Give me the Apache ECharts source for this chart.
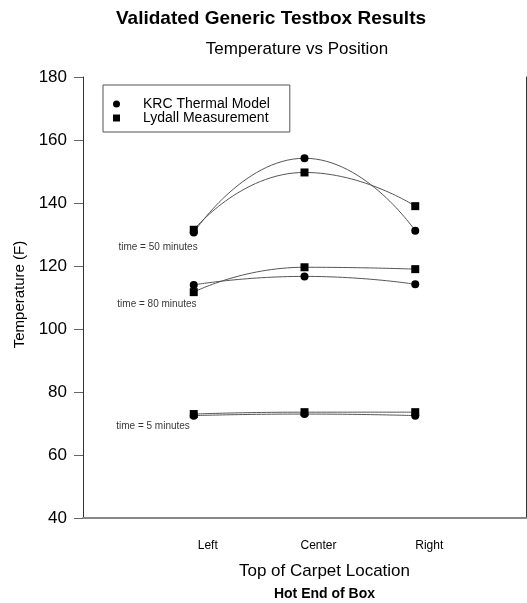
<!DOCTYPE html>
<html>
<head>
<meta charset="utf-8">
<script src="https://cdn.jsdelivr.net/npm/echarts@6/dist/echarts.min.js"></script>
<style>html,body{margin:0;padding:0;background:#fff}#c{width:527px;height:603px}</style>
</head>
<body>
<div id="c"></div>
<script>
const categories = ['Left', 'Center', 'Right'];
const positions = [1, 2, 3];
const yTicks = [40, 60, 80, 100, 120, 140, 160, 180];

const krc5 = [72.5, 73.0, 72.5];
const lydall5 = [73.0, 73.6, 73.6];
const krc50 = [130.6, 154.2, 131.2];
const lydall50 = [131.5, 149.7, 139.0];
const krc80 = [114.0, 116.7, 114.2];
const lydall80 = [111.7, 119.6, 119.0];

const annotationText = ['time = 50 minutes', 'time = 80 minutes', 'time = 5 minutes'];
const annotationX = [0.32, 0.31, 0.30];
const annotationY = [125.8, 108.0, 69.0];

const KRC = 'KRC Thermal Model';
const LYD = 'Lydall Measurement';
const FONT = 'Liberation Sans, Arial, sans-serif';

function pts(vals) { return positions.map((p, i) => [p, vals[i]]); }
function lineSeries(name, vals, symbol) {
  return {
    name: name, type: 'line', data: pts(vals), smooth: 0.55,
    symbol: symbol, symbolSize: 8,
    itemStyle: { color: '#000' },
    lineStyle: { color: '#555', width: 1 },
    emphasis: { disabled: true }, animation: false, z: symbol === 'circle' ? 3 : 4
  };
}

const chart = echarts.init(document.getElementById('c'));
chart.setOption({
  backgroundColor: '#fff',
  animation: false,
  title: [
    { text: 'Validated Generic Testbox Results', left: 266, top: 4, textAlign: 'center',
      textStyle: { fontFamily: FONT, fontSize: 19, fontWeight: 'bold', color: '#000' } },
    { text: 'Temperature vs Position', left: 292, top: 36, textAlign: 'center',
      textStyle: { fontFamily: FONT, fontSize: 17, fontWeight: 'normal', color: '#000' } }
  ],
  legend: {
    left: 103, top: 85, orient: 'vertical',
    data: [{ name: KRC, icon: 'circle' }, { name: LYD, icon: 'rect' }],
    itemWidth: 7, itemHeight: 7, itemGap: 0,
    padding: [12, 20, 7, 10],
    borderColor: '#555', borderWidth: 1,
    selectedMode: false,
    itemStyle: { color: '#000' },
    textStyle: { fontFamily: FONT, fontSize: 14, color: '#000', padding: [0, 0, 0, 18], lineHeight: 11 }
  },
  grid: { left: 83, right: 1, top: 77, bottom: 85, outerBoundsMode: 'none', containLabel: false },
  xAxis: {
    type: 'value', min: 0, max: 4, interval: 1,
    axisLine: { show: true, lineStyle: { color: '#888', width: 2 } },
    axisTick: { show: false },
    splitLine: { show: false },
    axisLabel: {
      fontFamily: FONT, fontSize: 12, color: '#000', margin: 22, padding: [0, 0, 0, 28],
      formatter: v => categories[positions.indexOf(v)] || ''
    },
    name: '{a|Top of Carpet Location}\n{b|Hot End of Box}',
    nameLocation: 'middle', nameGap: 42,
    nameTextStyle: {
      padding: [0, 0, 0, 40],
      rich: {
        a: { fontFamily: FONT, fontSize: 17, color: '#000', lineHeight: 22 },
        b: { fontFamily: FONT, fontSize: 14, fontWeight: 'bold', color: '#000', lineHeight: 24 }
      }
    }
  },
  yAxis: [{
    type: 'value', min: yTicks[0], max: yTicks[yTicks.length - 1], interval: 20,
    axisLine: { show: true, lineStyle: { color: '#333', width: 1 } },
    axisTick: { show: true, length: 9, lineStyle: { color: '#666' } },
    splitLine: { show: false },
    axisLabel: { fontFamily: FONT, fontSize: 17, color: '#000', margin: 16 },
    name: 'Temperature (F)', nameLocation: 'middle', nameGap: 52,
    nameTextStyle: { fontFamily: FONT, fontSize: 15, color: '#000', padding: [0, 0, 0, 6] }
  }, {
    type: 'value', min: yTicks[0], max: yTicks[yTicks.length - 1], position: 'right',
    axisLine: { show: true, lineStyle: { color: '#333', width: 1 } },
    axisTick: { show: false }, axisLabel: { show: false }, splitLine: { show: false }
  }],
  series: [
    lineSeries(KRC, krc50, 'circle'),
    lineSeries(LYD, lydall50, 'rect'),
    lineSeries(KRC, krc80, 'circle'),
    lineSeries(LYD, lydall80, 'rect'),
    lineSeries(KRC, krc5, 'circle'),
    lineSeries(LYD, lydall5, 'rect'),
    {
      type: 'scatter', symbolSize: 0, silent: true,
      data: annotationText.map((t, i) => ({ name: t, value: [annotationX[i], annotationY[i]] })),
      label: { show: true, position: 'right', distance: 0, formatter: p => p.name,
        fontFamily: FONT, fontSize: 10, color: '#000' }
    }
  ]
});
</script>
</body>
</html>
